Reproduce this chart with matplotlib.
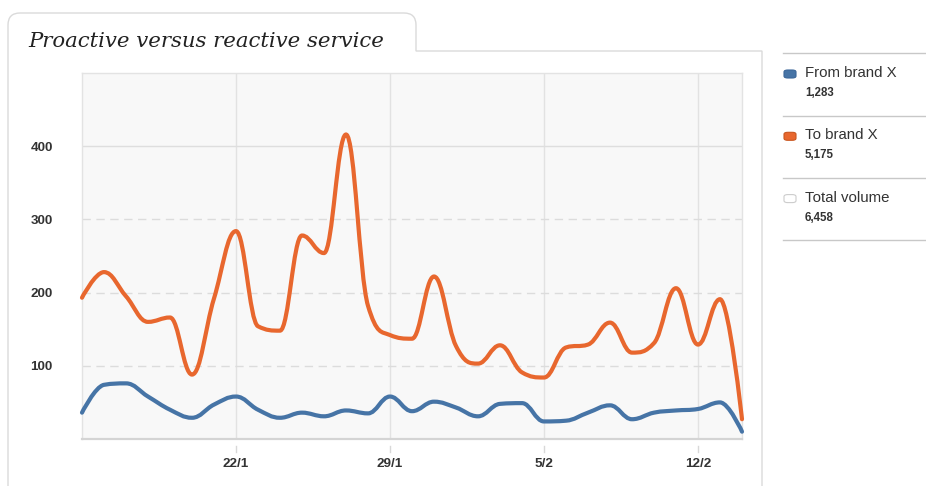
import matplotlib
matplotlib.use("Agg")
import matplotlib.pyplot as plt
from matplotlib.path import Path
from matplotlib.patches import PathPatch, FancyBboxPatch
from matplotlib.lines import Line2D
import matplotlib.transforms as mtransforms

# ---------------- data ----------------
title = "Proactive versus reactive service"
day_index = list(range(31))          # 15/1 ... 14/2, one point per day
tick_days = [7, 14, 21, 28]
tick_labels = ["22/1", "29/1", "5/2", "12/2"]
y_ticks = [100, 200, 300, 400]

to_brand = [193, 228, 195, 160, 166, 88, 192, 284, 154, 148,
            278, 254, 416, 182, 142, 137, 222, 127, 103, 128,
            91, 84, 125, 129, 159, 118, 131, 206, 129, 191, 27]
from_brand = [36, 74, 76, 58, 40, 29, 47, 58, 40, 29,
              36, 31, 39, 35, 58, 38, 51, 43, 31, 48,
              49, 24, 25, 36, 46, 27, 36, 39, 41, 50, 10]

legend_names = ["From brand X", "To brand X", "Total volume"]
legend_totals = ["1,283", "5,175", "6,458"]

BLUE = "#4674a6"
ORANGE = "#e8672e"

W, H = 926, 486
fig = plt.figure(figsize=(W / 100, H / 100), dpi=100)
fig.patch.set_facecolor("white")


def fx(x):
    return x / W


def fy(y):
    return 1 - y / H


# ---------------- spline (Highcharts style) ----------------
def spline_path(xs, ys, smoothing=1.5):
    n = len(xs)
    denom = smoothing + 1
    right = [None] * n
    verts = [(xs[0], ys[0])]
    codes = [Path.MOVETO]
    for i in range(1, n):
        px, py = xs[i], ys[i]
        lx, ly = xs[i - 1], ys[i - 1]
        if i < n - 1:
            nx, ny = xs[i + 1], ys[i + 1]
            lcx = (smoothing * px + lx) / denom
            lcy = (smoothing * py + ly) / denom
            rcx = (smoothing * px + nx) / denom
            rcy = (smoothing * py + ny) / denom
            corr = ((rcy - lcy) * (rcx - px)) / (rcx - lcx) + py - rcy
            lcy += corr
            rcy += corr
            if lcy > ly and lcy > py:
                lcy = max(ly, py)
                rcy = 2 * py - lcy
            elif lcy < ly and lcy < py:
                lcy = min(ly, py)
                rcy = 2 * py - lcy
            if rcy > ny and rcy > py:
                rcy = max(ny, py)
                lcy = 2 * py - rcy
            elif rcy < ny and rcy < py:
                rcy = min(ny, py)
                lcy = 2 * py - rcy
            right[i] = (rcx, rcy)
        else:
            lcx, lcy = px, py
        c1 = right[i - 1] if right[i - 1] is not None else (lx, ly)
        verts += [c1, (lcx, lcy), (px, py)]
        codes += [Path.CURVE4] * 3
    return Path(verts, codes)


# ---------------- panel frame ----------------
r = 12
frame_verts = [
    (8, 486), (8, 13 + r), (8, 13), (8 + r, 13),
    (416 - r, 13), (416, 13), (416, 13 + r),
    (416, 51), (762, 51), (762, 486)
]
frame_codes = [Path.MOVETO, Path.LINETO, Path.CURVE3, Path.CURVE3,
               Path.LINETO, Path.CURVE3, Path.CURVE3,
               Path.LINETO, Path.LINETO, Path.LINETO]
frame = Path([(fx(x), fy(y)) for x, y in frame_verts], frame_codes)
fig.add_artist(PathPatch(frame, transform=fig.transFigure, facecolor="none",
                         edgecolor="#dadada", lw=1.0))

# title
t = fig.text(fx(28), fy(47), title, family="DejaVu Serif", style="italic",
             fontsize=16, color="#222222", ha="left", va="baseline")
fig.canvas.draw()
bb = t.get_window_extent()
t.set_fontsize(16 * 358 / bb.width)

# ---------------- axes ----------------
ax_l, ax_r, ax_t, ax_b = 82, 742, 73, 439
ax = fig.add_axes([fx(ax_l), fy(ax_b), (ax_r - ax_l) / W, (ax_b - ax_t) / H])
ax.set_facecolor("#f8f8f8")
ax.set_xlim(0, 30)
ax.set_ylim(0, 500)

for s in ["top", "left", "right"]:
    ax.spines[s].set_color("#e3e3e3")
    ax.spines[s].set_linewidth(1.0)
ax.spines["bottom"].set_color("#d4d4d4")
ax.spines["bottom"].set_linewidth(1.6)

for d in tick_days:
    ax.axvline(d, color="#e2e2e2", lw=1.0, zorder=1)
for v in y_ticks:
    if v == 400:
        ax.axhline(v, color="#dedede", lw=1.0, zorder=1)
    else:
        ax.axhline(v, color="#dcdcdc", lw=1.0, ls=(0, (6, 4)), zorder=1)

ax.set_yticks(y_ticks)
ax.set_yticklabels([str(v) for v in y_ticks])
ax.set_xticks(tick_days)
ax.set_xticklabels(tick_labels)
ax.tick_params(axis="y", length=0, pad=21, labelsize=9.7, labelcolor="#333333")
ax.tick_params(axis="x", length=0, pad=13.5, labelsize=9.7, labelcolor="#333333")
for lab in ax.get_xticklabels() + ax.get_yticklabels():
    lab.set_fontweight("bold")
    lab.set_family("Liberation Sans")

# tick marks below axis (offset from axis line)
trans = mtransforms.blended_transform_factory(ax.transData, ax.transAxes)
for d in tick_days:
    ln = Line2D([d, d], [-7 / (ax_b - ax_t), -13 / (ax_b - ax_t)],
                transform=trans, color="#d8d8d8", lw=1.0, clip_on=False)
    ax.add_line(ln)

# series
for ys, col in [(to_brand, ORANGE), (from_brand, BLUE)]:
    p = spline_path(day_index, ys)
    ax.add_patch(PathPatch(p, facecolor="none", edgecolor=col, lw=3.0,
                           capstyle="round", joinstyle="round", zorder=3,
                           clip_on=False))

# ---------------- legend ----------------
for y in [53, 116, 178, 240]:
    fig.add_artist(Line2D([fx(783), fx(926)], [fy(y), fy(y)],
                          transform=fig.transFigure, color="#c8c8c8", lw=1.0))

leg_cols = [(BLUE, "#3a6699"), (ORANGE, "#c9561f"), ("white", "#cccccc")]
for i, (name, tot) in enumerate(zip(legend_names, legend_totals)):
    y0 = 53 + i * 62.3
    fc, ec = leg_cols[i]
    box = FancyBboxPatch((fx(784), fy(y0 + 25)), 12 / W, 8 / H,
                         boxstyle="round,pad=0,rounding_size=0.004",
                         transform=fig.transFigure, facecolor=fc, edgecolor=ec,
                         lw=0.8)
    fig.add_artist(box)
    fig.text(fx(805), fy(y0 + 20), name, family="Liberation Sans",
             fontsize=10.8, color="#333333", ha="left", va="center")
    fig.text(fx(805), fy(y0 + 40), tot, family="Liberation Sans",
             fontsize=8.3, fontweight="bold", color="#333333", ha="left",
             va="center")

fig.savefig("out.png", dpi=100, facecolor="white")
